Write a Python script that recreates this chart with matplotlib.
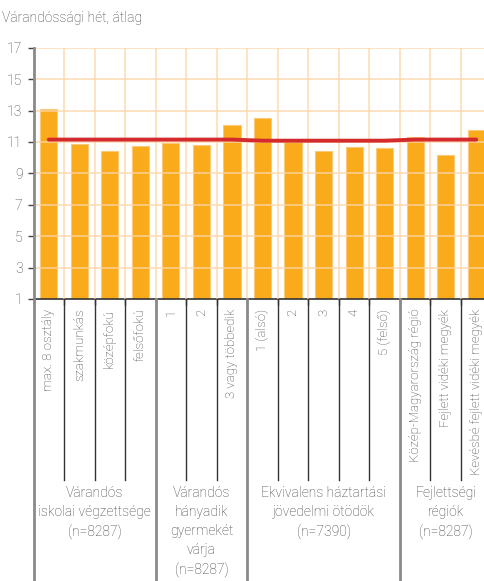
import numpy as np
import matplotlib
matplotlib.use("Agg")
import matplotlib.pyplot as plt
import matplotlib.transforms as mtransforms

plt.rcParams['font.family'] = ['Roboto', 'DejaVu Sans']
plt.rcParams['font.weight'] = 'light'

# category labels and values
categories = ["max. 8 osztály", "szakmunkás", "középfokú", "felsőfokú",
              "1", "2", "3 vagy többedik",
              "1 (alsó)", "2", "3", "4", "5 (felső)",
              "Közép-Magyarország régió", "Fejlett vidéki megyék",
              "Kevésbé fejlett vidéki megyék"]
values = [13.1, 10.85, 10.45, 10.75,
          10.95, 10.8, 12.1,
          12.5, 11.0, 10.45, 10.65, 10.6,
          11.3, 10.2, 11.75]
average = [11.15] * 7 + [11.08] * 5 + [11.15] * 3

groups = ["Várandós\niskolai végzettsége\n(n=8287)",
          "Várandós\nhányadik\ngyermekét\nvárja\n(n=8287)",
          "Ekvivalens háztartási\njövedelmi ötödök\n(n=7390)",
          "Fejlettségi\nrégiók\n(n=8287)"]
group_sizes = [4, 3, 5, 3]
yticks = [1, 3, 5, 7, 9, 11, 13, 15, 17]

text_col = "#3F3F3F"
bar_col = "#F9AB1B"
grid_col = "#FDD5A8"

fig = plt.figure(figsize=(4.84, 5.81), dpi=100)
ax = fig.add_axes([33.5 / 484, (581 - 299) / 581, 458 / 484, 251.3 / 581])

n = len(categories)
x = np.arange(n)
ax.bar(x, np.array(values) - 1, bottom=1, width=0.56, color=bar_col,
       edgecolor="#FCC977", linewidth=0.8, zorder=2)
ax.plot(x, average, color="#D42A2C", linewidth=2.8, solid_capstyle="round", zorder=4)

ax.set_xlim(-0.5, n - 0.5)
ax.set_ylim(1, 17)

# grid
for yv in yticks[1:]:
    ax.axhline(yv, color=grid_col, linewidth=1.3, alpha=0.75, zorder=3)
for xv in np.arange(0.5, n - 0.5, 1):
    ax.axvline(xv, color=grid_col, linewidth=1.3, alpha=0.75, zorder=3)

ax.set_yticks(yticks)
ax.set_yticklabels([str(v) for v in yticks], color=text_col, fontsize=10)
ax.tick_params(axis='y', length=4, width=1, color="#444444", pad=4)

ax.set_xticks(x)
ax.set_xticklabels(categories, rotation=90, color=text_col, fontsize=9.5, va="top")
ax.tick_params(axis='x', which='major', length=0, pad=7)
ax.set_xticks(np.arange(-0.5, n, 1), minor=True)
ax.tick_params(axis='x', which='minor', length=4, width=1, color="#333333")

for side in ["top", "right"]:
    ax.spines[side].set_visible(False)
ax.spines["bottom"].set_color("#333333")
ax.spines["bottom"].set_linewidth(1.2)
ax.spines["left"].set_visible(False)

# separators below the axis
trans = mtransforms.blended_transform_factory(ax.transData, ax.transAxes)
bounds = np.cumsum([0] + group_sizes) - 0.5
for xv in np.arange(0.5, n - 0.5, 1):
    if np.any(np.isclose(xv, bounds)):
        continue
    ax.plot([xv, xv], [0, -0.72], transform=trans, color="#333333",
            linewidth=1, clip_on=False, zorder=5)
for xv in bounds[:-1]:
    top = 1.0 if xv == -0.5 else 0
    ax.plot([xv, xv], [top, -1.2], transform=trans, color="#8A8A8A",
            linewidth=2, clip_on=False, zorder=5)

# group labels
start = 0
for name, size in zip(groups, group_sizes):
    cx = start + (size - 1) / 2
    ax.text(cx, -0.745, name, transform=trans, ha="center", va="top",
            color=text_col, fontsize=10, linespacing=1.45)
    start += size

fig.text(2 / 484, 1 - 18 / 581, "Várandóssági hét, átlag", ha="left", va="center",
         color=text_col, fontsize=10)

fig.savefig("out.png", dpi=100)
